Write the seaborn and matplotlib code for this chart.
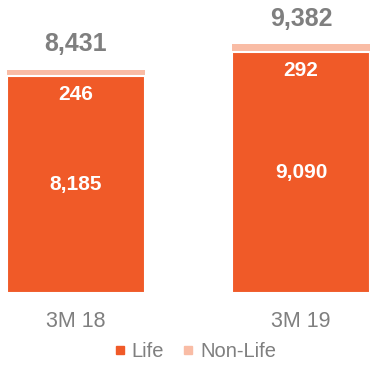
import matplotlib
matplotlib.use("Agg")
import matplotlib.pyplot as plt
from matplotlib.lines import Line2D
import pandas as pd
import seaborn as sns

periods = ["3M 18", "3M 19"]
life = [8185, 9090]
non_life = [246, 292]
totals = [8431, 9382]

LIFE_COLOR = "#F05A28"
NONLIFE_COLOR = "#F9BCA5"
GRAY = "#7F7F7F"

sns.set_style("white")
plt.rcParams["font.family"] = ["Liberation Sans", "DejaVu Sans"]

df = pd.DataFrame({"period": periods, "life": life, "non_life": non_life, "total": totals})

fig = plt.figure(figsize=(3.75, 3.68), dpi=100)
ax = fig.add_axes([0.0, 0.204, 1.0, 0.796])

bar_w = 0.613
# full stack height in the Non-Life colour, Life drawn over it
sns.barplot(data=df, x="period", y="total", order=periods, color=NONLIFE_COLOR,
            width=bar_w, saturation=1, linewidth=0, ax=ax)
sns.barplot(data=df, x="period", y="life", order=periods, color=LIFE_COLOR,
            width=bar_w, saturation=1, edgecolor="white", linewidth=1.5, ax=ax)

ax.set_xlim(-0.338, 1.329)
ax.set_ylim(0, 11057)

for i in range(len(periods)):
    ax.text(i, life[i] / 2, f"{life[i]:,}", ha="center", va="center",
            color="white", fontsize=15, fontweight="bold")
    ax.annotate(f"{non_life[i]:,}", (i, life[i]), xytext=(0, -13.5),
                textcoords="offset points", ha="center", va="center",
                color="white", fontsize=15, fontweight="bold")
    ax.annotate(f"{totals[i]:,}", (i, totals[i]), xytext=(0, 18.5),
                textcoords="offset points", ha="center", va="center",
                color=GRAY, fontsize=18, fontweight="bold")

ax.set_xlabel("")
ax.set_ylabel("")
ax.set_yticks([])
ax.tick_params(axis="x", length=0, pad=13, labelsize=15.5, labelcolor=GRAY)
for s in ax.spines.values():
    s.set_visible(False)

handles = [
    Line2D([], [], marker="s", linestyle="none", markersize=6,
           markerfacecolor=LIFE_COLOR, markeredgecolor=LIFE_COLOR, label="Life"),
    Line2D([], [], marker="s", linestyle="none", markersize=6,
           markerfacecolor=NONLIFE_COLOR, markeredgecolor=NONLIFE_COLOR, label="Non-Life"),
]
leg = fig.legend(handles=handles, loc="center", bbox_to_anchor=(0.52, 0.044),
                 ncol=2, frameon=False, fontsize=14.5, handlelength=0.6,
                 handletextpad=0.3, columnspacing=0.9)
for t in leg.get_texts():
    t.set_color(GRAY)

fig.savefig("out.png", dpi=100)
